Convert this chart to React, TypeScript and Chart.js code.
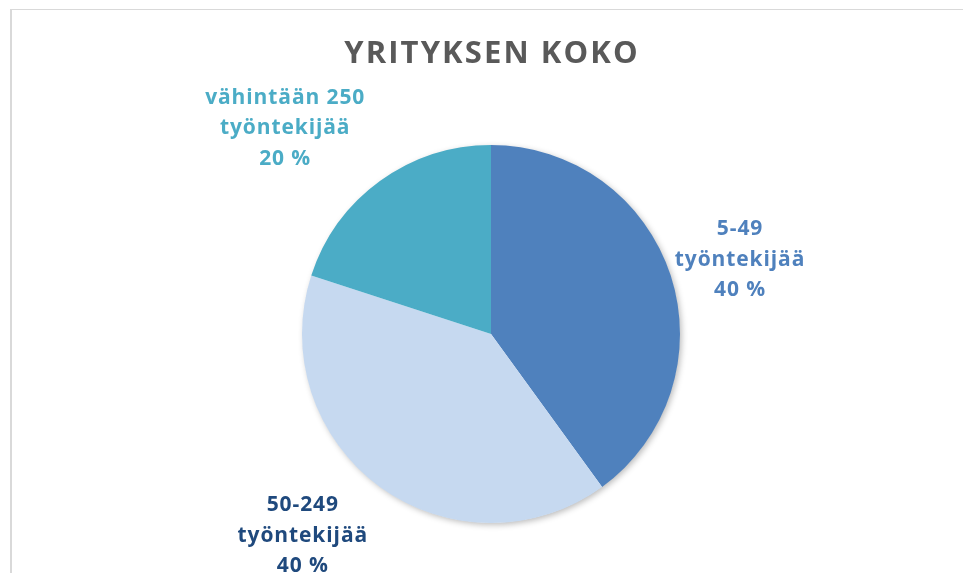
import React, { useEffect, useRef } from "react";
import { Chart, registerables } from "chart.js";

Chart.register(...registerables);

const TITLE = "YRITYKSEN KOKO";
const categories = ["5-49 työntekijää", "50-249 työntekijää", "vähintään 250 työntekijää"];
const labelLines = [
  ["5-49", "työntekijää"],
  ["50-249", "työntekijää"],
  ["vähintään 250", "työntekijää"],
];
const shares = [40, 40, 20];
const sliceColors = ["#4F81BD", "#C6D9F0", "#4BACC6"];
const labelColors = ["#4F81BD", "#1F497D", "#4BACC6"];
// label placement relative to each slice: distance (x radius) and angular shift (degrees)
const labelDist = [1.375, 1.46, 1.54];
const labelShift = [1.4, 7, -9];

const FONT = "'Open Sans', Lato, sans-serif";

const pieExtras = {
  id: "pieExtras",
  beforeDatasetsDraw(chart: any) {
    const meta = chart.getDatasetMeta(0);
    const a = meta.data[0];
    if (!a) return;
    const { x, y, outerRadius } = a.getProps(["x", "y", "outerRadius"], true);
    const ctx = chart.ctx;
    ctx.save();
    ctx.shadowColor = "rgba(0,0,0,0.28)";
    ctx.shadowBlur = 6;
    ctx.shadowOffsetX = 2;
    ctx.shadowOffsetY = 2;
    ctx.fillStyle = "#ffffff";
    ctx.beginPath();
    ctx.arc(x, y, outerRadius - 0.5, 0, Math.PI * 2);
    ctx.fill();
    ctx.restore();
  },
  afterDatasetsDraw(chart: any) {
    const ctx = chart.ctx;
    const meta = chart.getDatasetMeta(0);
    ctx.save();
    // title
    const first = meta.data[0];
    const cx = first.x;
    ctx.fillStyle = "#595959";
    ctx.font = `bold 31px ${FONT}`;
    ctx.textAlign = "center";
    ctx.textBaseline = "middle";
    (ctx as any).letterSpacing = "2.1px";
    ctx.fillText(TITLE, cx + 1, 54);
    (ctx as any).letterSpacing = "0.9px";
    ctx.font = `bold 21px ${FONT}`;
    meta.data.forEach((arc: any, i: number) => {
      const { x, y, startAngle, endAngle, outerRadius } = arc.getProps(
        ["x", "y", "startAngle", "endAngle", "outerRadius"],
        true
      );
      const mid = (startAngle + endAngle) / 2 + (labelShift[i] * Math.PI) / 180;
      const d = outerRadius * labelDist[i];
      const lx = x + Math.cos(mid) * d;
      const ly = y + Math.sin(mid) * d;
      const lines = [...labelLines[i], `${shares[i]} %`];
      const lh = 30.5;
      ctx.fillStyle = labelColors[i];
      lines.forEach((t, k) => {
        ctx.fillText(t, lx, ly + (k - (lines.length - 1) / 2) * lh);
      });
    });
    ctx.restore();
  },
};

export default function App() {
  const ref = useRef<HTMLCanvasElement | null>(null);
  useEffect(() => {
    document.body.style.margin = "0";
    const canvas = ref.current;
    if (!canvas) return;
    const chart = new Chart(canvas, {
      type: "pie",
      data: {
        labels: categories,
        datasets: [
          {
            data: shares,
            backgroundColor: sliceColors,
            borderWidth: 0,
          },
        ],
      },
      options: {
        animation: false,
        responsive: false,
        layout: { padding: { left: 302, right: 283, top: 145, bottom: 50 } },
        plugins: {
          legend: { display: false },
          tooltip: { enabled: false },
          title: { display: false },
        },
      },
      plugins: [pieExtras],
    });
    return () => chart.destroy();
  }, []);
  return (
    <div style={{ position: "relative", width: 963, height: 573, overflow: "hidden", background: "#fff" }}>
      <div
        style={{
          position: "absolute",
          left: 10,
          top: 9,
          width: 1000,
          height: 700,
          borderTop: "1px solid #d9d9d9",
          borderLeft: "2px solid #d9d9d9",
        }}
      />
      <canvas ref={ref} width={963} height={573} style={{ position: "absolute", left: 0, top: 0 }} />
    </div>
  );
}
